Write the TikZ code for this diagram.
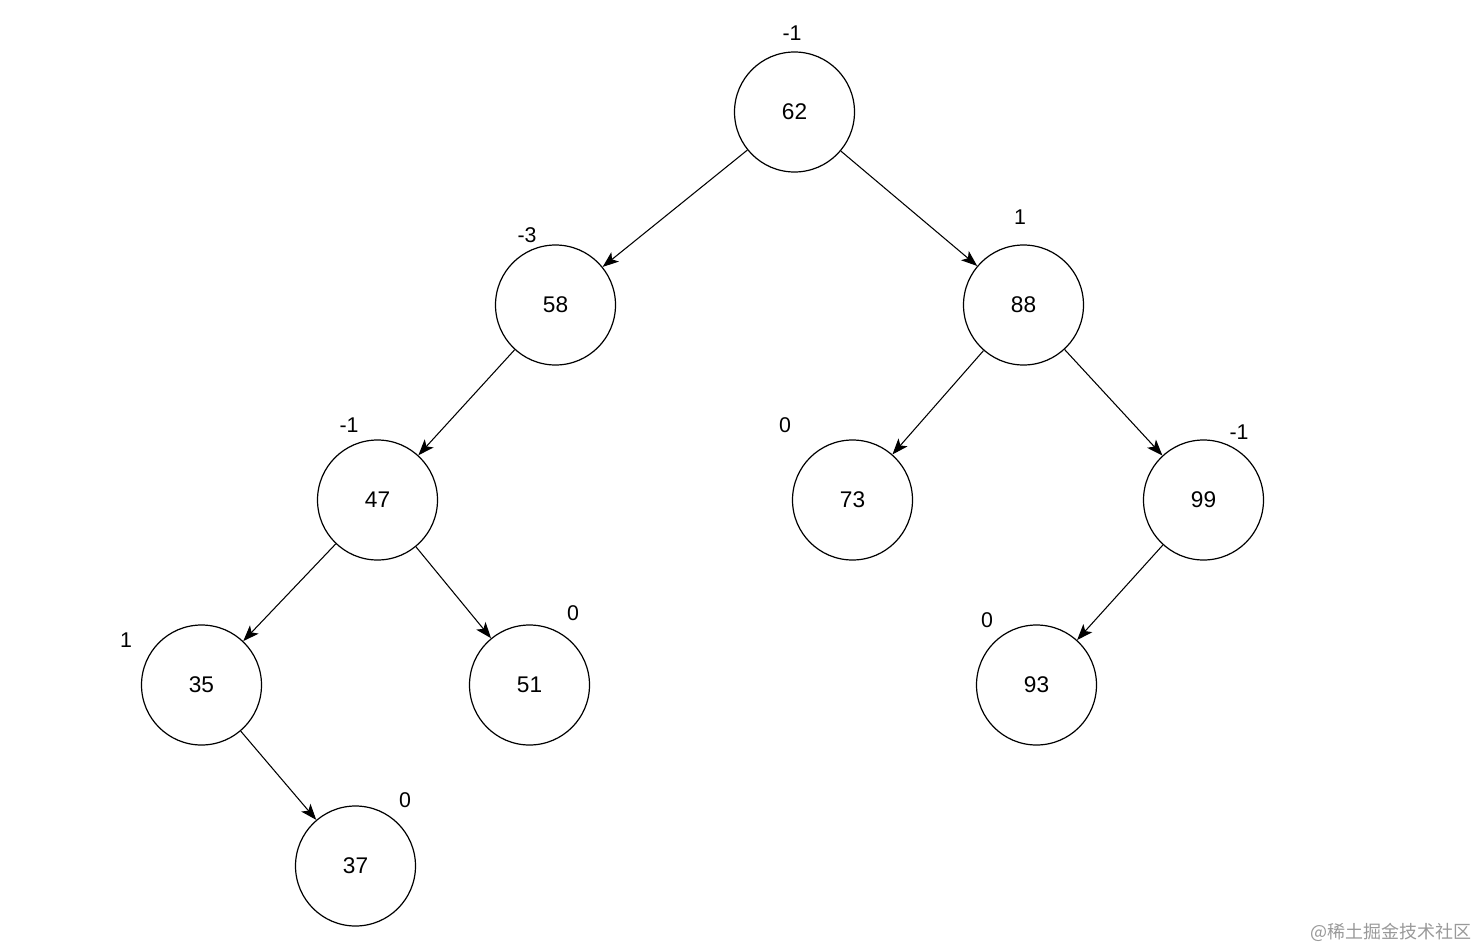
\documentclass[tikz,border=0pt]{standalone}
\usepackage{fontspec}
\setmainfont{Liberation Sans}
\newfontfamily\cjk{Noto Sans CJK SC}
\usetikzlibrary{arrows.meta}
\begin{document}
\begin{tikzpicture}[x=0.75pt,y=-0.75pt,
  vnode/.style={circle,draw,line width=0.9pt,minimum size=90pt,inner sep=0pt,font=\fontsize{17}{19}\selectfont},
  bal/.style={inner sep=0pt,font=\fontsize{16}{18}\selectfont},
  edge/.style={line width=0.8pt,-{Stealth[length=12pt,width=9pt,inset=3pt]}}]
\useasboundingbox (0,0) rectangle (1477,949);
\node[vnode] (n62) at (794.5,112) {62};
\node[vnode] (n58) at (555.5,305) {58};
\node[vnode] (n88) at (1023.5,305) {88};
\node[vnode] (n47) at (377.5,500) {47};
\node[vnode] (n73) at (852.5,500) {73};
\node[vnode] (n99) at (1203.5,500) {99};
\node[vnode] (n35) at (201.5,685) {35};
\node[vnode] (n51) at (529.5,685) {51};
\node[vnode] (n93) at (1036.5,685) {93};
\node[vnode] (n37) at (355.5,866) {37};
\node[bal] (b62) at (792,33) {-1};
\node[bal] (b58) at (527,235) {-3};
\node[bal] (b88) at (1020,217) {1};
\node[bal] (b47) at (349,425) {-1};
\node[bal] (b73) at (785,425) {0};
\node[bal] (b99) at (1239,432) {-1};
\node[bal] (b35) at (126,640) {1};
\node[bal] (b51) at (573,613) {0};
\node[bal] (b93) at (987,620) {0};
\node[bal] (b37) at (405,800) {0};
\draw[edge] (n62) -- (n58);
\draw[edge] (n62) -- (n88);
\draw[edge] (n58) -- (n47);
\draw[edge] (n88) -- (n73);
\draw[edge] (n88) -- (n99);
\draw[edge] (n47) -- (n35);
\draw[edge] (n47) -- (n51);
\draw[edge] (n99) -- (n93);
\draw[edge] (n35) -- (n37);
\node[font=\cjk\fontsize{13.5}{15}\selectfont,text=black!40,inner sep=0pt] (wm) at (1391,932) {@稀土掘金技术社区};
\end{tikzpicture}
\end{document}
